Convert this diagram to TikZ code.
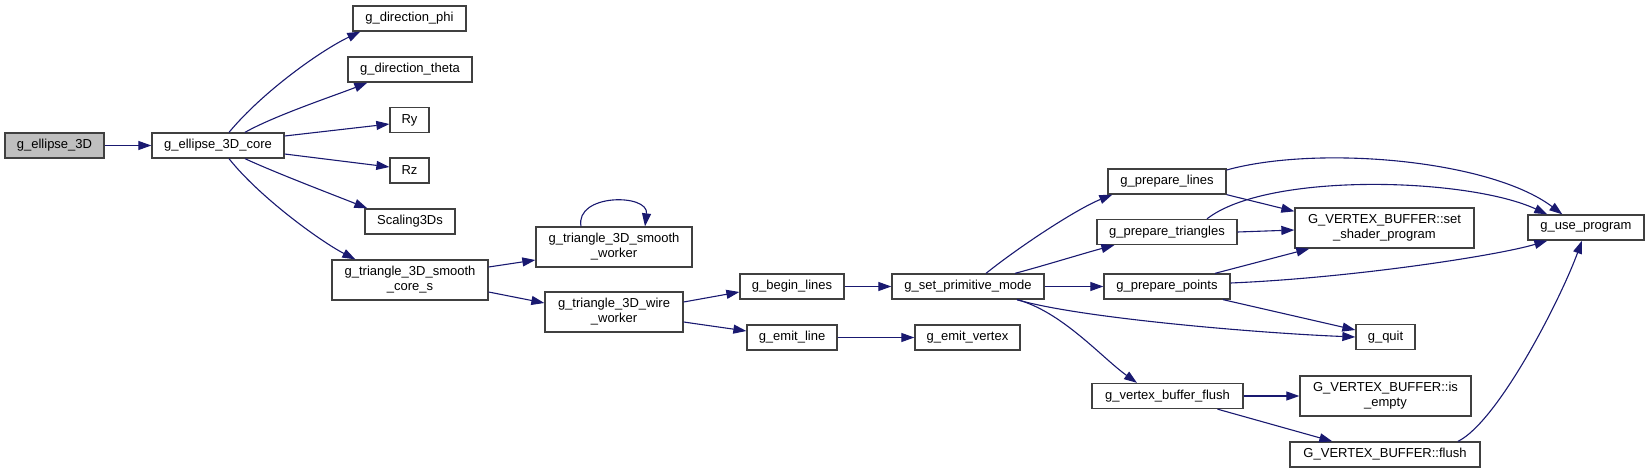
\documentclass[tikz,border=0pt]{standalone}
\usepackage{fontspec}
\setmainfont{Liberation Sans}
\usetikzlibrary{arrows.meta}
\definecolor{bleuNuit}{RGB}{25,25,112}
\definecolor{grisBord}{RGB}{64,64,64}
\definecolor{grisFond}{RGB}{191,191,191}

\begin{document}
\begin{tikzpicture}[x=1pt,y=-1pt,
        fn/.style={draw=grisBord, line width=1.3pt, fill=white, inner sep=0pt, align=center,
            font=\fontsize{13}{15}\selectfont, minimum height=25pt},
        appel/.style={draw=bleuNuit, line width=1.1pt, -{Triangle[length=13pt,width=9pt]}}]
        \useasboundingbox (0,0) rectangle (1649,473);

        % Fonctions
        \node[fn, fill=grisFond, minimum width=99pt] (e3d) at (54.5,145.5) {g\_ellipse\_3D};
        \node[fn, minimum width=132pt] (core) at (218,145.5) {g\_ellipse\_3D\_core};
        \node[fn, minimum width=113pt] (phi) at (409.5,18.5) {g\_direction\_phi};
        \node[fn, minimum width=124pt] (theta) at (410,69.5) {g\_direction\_theta};
        \node[fn, minimum width=39pt] (ry) at (409.5,120) {Ry};
        \node[fn, minimum width=39pt] (rz) at (409.5,170.5) {Rz};
        \node[fn, minimum width=90pt] (scal) at (410,221.5) {Scaling3Ds};
        \node[fn, minimum width=156pt, minimum height=40pt] (smcore) at (410,280) {g\_triangle\_3D\_smooth\\\_core\_s};
        \node[fn, minimum width=156pt, minimum height=40pt] (smwork) at (614,247) {g\_triangle\_3D\_smooth\\\_worker};
        \node[fn, minimum width=138pt, minimum height=40pt] (wire) at (614,312) {g\_triangle\_3D\_wire\\\_worker};
        \node[fn, minimum width=104pt] (begin) at (792,286.5) {g\_begin\_lines};
        \node[fn, minimum width=90pt] (emit) at (792,337.5) {g\_emit\_line};
        \node[fn, minimum width=105pt] (emitv) at (967.5,337.5) {g\_emit\_vertex};
        \node[fn, minimum width=152pt] (setprim) at (968,286.5) {g\_set\_primitive\_mode};
        \node[fn, minimum width=118pt] (preplines) at (1167,181.5) {g\_prepare\_lines};
        \node[fn, minimum width=140pt] (preptri) at (1167,232) {g\_prepare\_triangles};
        \node[fn, minimum width=126pt] (preppts) at (1167,286.5) {g\_prepare\_points};
        \node[fn, minimum width=151pt] (vbflush) at (1167.5,396) {g\_vertex\_buffer\_flush};
        \node[fn, minimum width=179pt, minimum height=40pt] (setshader) at (1384.5,228) {G\_VERTEX\_BUFFER::set\\\_shader\_program};
        \node[fn, minimum width=59pt] (quit) at (1385.5,337) {g\_quit};
        \node[fn, minimum width=171pt, minimum height=40pt] (isempty) at (1385.5,396) {G\_VERTEX\_BUFFER::is\\\_empty};
        \node[fn, minimum width=190pt] (flush) at (1385,454.5) {G\_VERTEX\_BUFFER::flush};
        \node[fn, minimum width=116pt] (useprog) at (1586,227.5) {g\_use\_program};

        % Appels
        \draw[appel] (e3d) -- (core);
        \draw[appel] ([xshift=11pt]core.north) .. controls +(35,-42) and +(-38,18) .. ([xshift=8pt]phi.south west);
        \draw[appel] ([xshift=27pt]core.north) .. controls +(30,-17) and +(-30,12) .. ([xshift=20pt]theta.south west);
        \draw[appel] ([yshift=9.5pt]core.east) -- ([yshift=-4pt]ry.west);
        \draw[appel] ([yshift=-8.5pt]core.east) -- ([yshift=3.5pt]rz.west);
        \draw[appel] ([xshift=27pt]core.south) .. controls +(30,14) and +(-30,-12) .. ([xshift=3pt]scal.north west);
        \draw[appel] ([xshift=11pt]core.south) .. controls +(30,38) and +(-35,-18) .. ([xshift=24pt]smcore.north west);

        \draw[appel] ([yshift=13pt]smcore.east) -- ([yshift=-13pt]smwork.west);
        \draw[appel] ([xshift=-33pt]smwork.north) .. controls +(-6,-33) and +(4,-33) .. ([xshift=31pt]smwork.north);
        \draw[appel] ([yshift=-12pt]smcore.east) -- ([yshift=9pt]wire.west);
        \draw[appel] ([yshift=10pt]wire.east) -- ([yshift=-5.5pt]begin.west);
        \draw[appel] ([yshift=-10pt]wire.east) -- ([yshift=6.5pt]emit.west);
        \draw[appel] (begin) -- (setprim);
        \draw[appel] (emit) -- (emitv);

        \draw[appel] ([xshift=18pt]setprim.north) .. controls +(35,-28) and +(-35,14) .. ([xshift=5pt]preplines.south west);
        \draw[appel] ([xshift=47pt]setprim.north) .. controls +(30,-8) and +(-30,8) .. ([xshift=18pt]preptri.south west);
        \draw[appel] (setprim) -- (preppts);
        \draw[appel] ([xshift=49pt]setprim.south) .. controls +(60,18) and +(-100,-4) .. (quit.west);
        \draw[appel] ([xshift=49pt]setprim.south) .. controls +(45,12) and +(-35,-25) .. ([xshift=-30.5pt]vbflush.north);

        \draw[appel] ([xshift=56pt]preppts.south) -- ([yshift=7pt]quit.west);
        \draw[appel] ([xshift=48pt]preppts.north) -- ([xshift=15pt]setshader.south west);
        \draw[appel] ([yshift=3.5pt]preppts.east) .. controls +(120,-5) and +(-50,15) .. ([xshift=20pt]useprog.south west);
        \draw[appel] (preplines.south east) -- ([yshift=-4pt]setshader.north west);
        \draw[appel] ([yshift=11.5pt]preplines.east) .. controls +(90,-25) and +(-73,-55) .. ([xshift=35pt]useprog.north west);
        \draw[appel] (preptri.east) -- ([yshift=-2pt]setshader.west);
        \draw[appel] ([xshift=40pt]preptri.north) .. controls +(60,-47) and +(-80,-37) .. ([xshift=20pt]useprog.north west);

        \draw[appel] (vbflush) -- (isempty);
        \draw[appel] ([xshift=50pt]vbflush.south) -- ([xshift=43pt]flush.north west);
        \draw[appel] ([xshift=73pt]flush.north) .. controls +(40,-20) and +(-22,60) .. ([xshift=-4pt]useprog.south);
    \end{tikzpicture}
\end{document}
